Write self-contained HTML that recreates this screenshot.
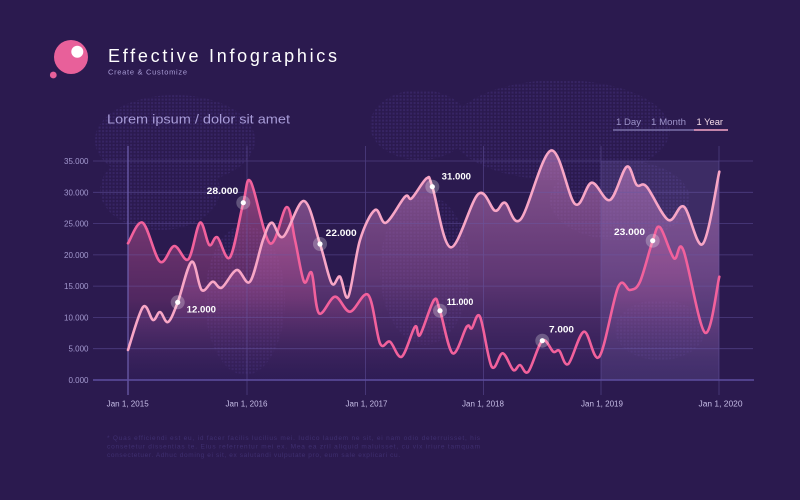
<!DOCTYPE html>
<html><head><meta charset="utf-8"><style>
html,body{margin:0;padding:0;background:#2b1a4f;}
svg{display:block;}
text{font-family:"Liberation Sans",sans-serif;}
</style></head><body>
<svg id="s" width="800" height="500" viewBox="0 0 800 500" xmlns="http://www.w3.org/2000/svg">
<defs>
<pattern id="dots" x="0" y="0" width="3.5" height="3.5" patternUnits="userSpaceOnUse">
<rect x="0.6" y="0.6" width="2" height="2" fill="#43307a" opacity="0.5"/>
</pattern>
<clipPath id="map">
<ellipse cx="175" cy="140" rx="80" ry="45"/>
<ellipse cx="160" cy="190" rx="60" ry="40"/>
<ellipse cx="245" cy="300" rx="40" ry="75"/>
<ellipse cx="420" cy="125" rx="50" ry="35"/>
<ellipse cx="425" cy="270" rx="45" ry="75"/>
<ellipse cx="560" cy="130" rx="110" ry="50"/>
<ellipse cx="620" cy="200" rx="70" ry="40"/>
<ellipse cx="660" cy="330" rx="45" ry="30"/>
</clipPath>
<linearGradient id="gA" x1="0" y1="150" x2="0" y2="380" gradientUnits="userSpaceOnUse">
<stop offset="0" stop-color="#c47cba" stop-opacity="0.62"/>
<stop offset="0.55" stop-color="#8a4f92" stop-opacity="0.55"/>
<stop offset="1" stop-color="#3a2466" stop-opacity="0.25"/>
</linearGradient>
<linearGradient id="gB" x1="0" y1="180" x2="0" y2="380" gradientUnits="userSpaceOnUse">
<stop offset="0" stop-color="#f06aa8" stop-opacity="0.5"/>
<stop offset="0.6" stop-color="#c05095" stop-opacity="0.25"/>
<stop offset="1" stop-color="#3a2466" stop-opacity="0"/>
</linearGradient>
</defs>
<rect width="800" height="500" fill="#2b1a4f"/>
<rect x="60" y="80" width="720" height="340" fill="url(#dots)" clip-path="url(#map)"/>

<!-- logo -->
<circle cx="71" cy="57" r="17" fill="#e8609a"/>
<circle cx="77.3" cy="51.7" r="6" fill="#ffffff"/>
<circle cx="53.3" cy="75" r="3.4" fill="#e8609a"/>

<text x="108" y="62" font-size="18" fill="#ffffff" textLength="229" lengthAdjust="spacing">Effective Infographics</text>
<text x="108" y="74.5" font-size="7.5" fill="#a99dd6" textLength="79" lengthAdjust="spacing">Create &amp; Customize</text>
<text x="107" y="123.5" font-size="13" fill="#a89cd8" textLength="183" lengthAdjust="spacingAndGlyphs">Lorem ipsum / dolor sit amet</text>

<!-- tabs -->
<text x="616" y="125" font-size="9" fill="#9c92c8" textLength="25" lengthAdjust="spacingAndGlyphs">1 Day</text>
<text x="651" y="125" font-size="9" fill="#9c92c8" textLength="35" lengthAdjust="spacingAndGlyphs">1 Month</text>
<text x="696.5" y="125" font-size="9" fill="#f4dbe8" textLength="26.5" lengthAdjust="spacingAndGlyphs">1 Year</text>
<line x1="613" y1="130" x2="694" y2="130" stroke="#7a70a8" stroke-width="1.5"/>
<line x1="694" y1="130" x2="728" y2="130" stroke="#f7a8c8" stroke-width="1.6"/>

<g id="fills"></g>

<!-- highlight -->
<rect x="601" y="161" width="118" height="219" fill="#9a8ad8" opacity="0.17"/>

<!-- grid -->
<g stroke="#6a5aa8" stroke-width="0.8" opacity="0.55">
<line x1="93" y1="161" x2="753" y2="161"/>
<line x1="93" y1="192.3" x2="753" y2="192.3"/>
<line x1="93" y1="223.6" x2="753" y2="223.6"/>
<line x1="93" y1="254.9" x2="753" y2="254.9"/>
<line x1="93" y1="286.1" x2="753" y2="286.1"/>
<line x1="93" y1="317.4" x2="753" y2="317.4"/>
<line x1="93" y1="348.7" x2="753" y2="348.7"/>
<line x1="247" y1="146" x2="247" y2="395"/>
<line x1="365.5" y1="146" x2="365.5" y2="395"/>
<line x1="483.5" y1="146" x2="483.5" y2="395"/>
<line x1="601" y1="146" x2="601" y2="395"/>
<line x1="719" y1="146" x2="719" y2="395"/>
</g>
<line x1="128" y1="146" x2="128" y2="395" stroke="#6f60b0" stroke-width="1.2"/>
<line x1="93" y1="380" x2="754" y2="380" stroke="#5e4ea0" stroke-width="1.6"/>

<!-- y labels -->
<g font-size="8" fill="#a49ad0" text-anchor="end">
<text x="88.5" y="164">35.000</text>
<text x="88.5" y="195.3">30.000</text>
<text x="88.5" y="226.6">25.000</text>
<text x="88.5" y="257.9">20.000</text>
<text x="88.5" y="289.1">15.000</text>
<text x="88.5" y="320.4">10.000</text>
<text x="88.5" y="351.7">5.000</text>
<text x="88.5" y="383">0.000</text>
</g>
<!-- x labels -->
<g font-size="8" fill="#c6bde6">
<text x="106.7" y="406.5" textLength="42" lengthAdjust="spacingAndGlyphs">Jan 1, 2015</text>
<text x="225.5" y="406.5" textLength="42" lengthAdjust="spacingAndGlyphs">Jan 1, 2016</text>
<text x="345.5" y="406.5" textLength="42" lengthAdjust="spacingAndGlyphs">Jan 1, 2017</text>
<text x="462" y="406.5" textLength="42" lengthAdjust="spacingAndGlyphs">Jan 1, 2018</text>
<text x="581" y="406.5" textLength="42" lengthAdjust="spacingAndGlyphs">Jan 1, 2019</text>
<text x="698.5" y="406.5" textLength="44" lengthAdjust="spacingAndGlyphs">Jan 1, 2020</text>
</g>

<g id="lines"></g>

<!-- markers -->
<g>
<circle cx="243.3" cy="202.7" r="7" fill="#ffffff" opacity="0.25"/><circle cx="243.3" cy="202.7" r="2.6" fill="#fff"/>
<circle cx="177.7" cy="302.3" r="7" fill="#ffffff" opacity="0.25"/><circle cx="177.7" cy="302.3" r="2.6" fill="#fff"/>
<circle cx="320" cy="244" r="7" fill="#ffffff" opacity="0.25"/><circle cx="320" cy="244" r="2.6" fill="#fff"/>
<circle cx="432.3" cy="186.7" r="7" fill="#ffffff" opacity="0.25"/><circle cx="432.3" cy="186.7" r="2.6" fill="#fff"/>
<circle cx="440" cy="310.7" r="7" fill="#ffffff" opacity="0.25"/><circle cx="440" cy="310.7" r="2.6" fill="#fff"/>
<circle cx="542.3" cy="340.7" r="7" fill="#ffffff" opacity="0.25"/><circle cx="542.3" cy="340.7" r="2.6" fill="#fff"/>
<circle cx="652.7" cy="240.7" r="7" fill="#ffffff" opacity="0.25"/><circle cx="652.7" cy="240.7" r="2.6" fill="#fff"/>
</g>
<g font-size="9" font-weight="bold" fill="#ffffff">
<text x="206.7" y="194" textLength="31.6" lengthAdjust="spacingAndGlyphs">28.000</text>
<text x="186.7" y="312.5" textLength="29.3" lengthAdjust="spacingAndGlyphs">12.000</text>
<text x="325.7" y="236" textLength="31" lengthAdjust="spacingAndGlyphs">22.000</text>
<text x="441.7" y="179.3" textLength="29.3" lengthAdjust="spacingAndGlyphs">31.000</text>
<text x="446.7" y="305" textLength="26.6" lengthAdjust="spacingAndGlyphs">11.000</text>
<text x="549" y="332.7" textLength="25" lengthAdjust="spacingAndGlyphs">7.000</text>
<text x="614" y="235" textLength="31" lengthAdjust="spacingAndGlyphs">23.000</text>
</g>

<!-- footnote -->
<g font-size="6.5" fill="#3f2f70">
<text x="107" y="440" textLength="373" lengthAdjust="spacing">* Quas efficiendi est eu, id facer facilis lucilius mei. Iudico laudem ne sit, ei nam odio deterruisset, his</text>
<text x="107" y="448.5" textLength="373" lengthAdjust="spacing">consetetur dissentias te. Eius referrentur mei ex. Mea ea zril aliquid maluisset, cu vix iriure tamquam</text>
<text x="107" y="456.8" textLength="293" lengthAdjust="spacing">consectetuer. Adhuc doming ei sit, ex salutandi vulputate pro, eum sale explicari cu.</text>
</g>
</svg>
<script>
(function(){
var A=[[128,350],[143,307],[153,320],[160,312],[168,322],[177.7,302.3],[191.7,261.7],[201.7,290],[212.7,281.7],[221.7,287.7],[236.7,270],[250,281.7],[263,240],[271.7,222.7],[283.3,236.7],[304,201],[320,244],[331.7,283.3],[340,276.7],[348.3,296.7],[360,240],[375,210],[386,222.7],[405,196.7],[411.7,198.3],[426.7,178.3],[432.3,186.7],[450.7,247.3],[478.3,194],[495,210.7],[505,202.7],[520.7,219.3],[551,150.5],[575,204],[591.7,182.7],[610,200],[626.7,166.7],[636.7,185],[646.7,186.7],[668.3,220],[684,206.7],[702.7,244],[719.3,171.7]];
var B=[[128,243.3],[142.7,222.7],[160,261.7],[174.3,246],[188.3,259.3],[200,222.7],[209.3,245],[217.3,237.3],[230,257.3],[243.3,202.7],[250.7,181.7],[270,243.3],[286.7,207],[295,240],[304,281.7],[311.7,273],[319,313.3],[335,296.7],[350,311.7],[368.3,295],[380,343.3],[390,341.7],[401.7,356.7],[415,326.7],[420,335],[434,300],[440,310.7],[452.7,353.3],[466.7,326.7],[471.7,328.3],[480,316.7],[491.7,366.7],[502.7,353.3],[513.3,370],[520,365],[528.3,371.7],[542.3,340.7],[553.3,351.7],[559.3,350.7],[568.3,364],[584,331.7],[599.3,356.7],[618.3,286.7],[630,290],[640,281.7],[652.7,240.7],[660,227.3],[674,258.3],[683.3,250],[705,332.7],[719.3,276.7]];
function cr(p){var d="M"+p[0][0]+","+p[0][1];for(var i=0;i<p.length-1;i++){var p0=p[i-1]||p[i],p1=p[i],p2=p[i+1],p3=p[i+2]||p2;var c1x=p1[0]+(p2[0]-p0[0])/6,c1y=p1[1]+(p2[1]-p0[1])/6,c2x=p2[0]-(p3[0]-p1[0])/6,c2y=p2[1]-(p3[1]-p1[1])/6;d+=" C"+c1x.toFixed(2)+","+c1y.toFixed(2)+" "+c2x.toFixed(2)+","+c2y.toFixed(2)+" "+p2[0]+","+p2[1];}return d;}
var NS="http://www.w3.org/2000/svg";
function mk(tag,attrs,parent){var e=document.createElementNS(NS,tag);for(var k in attrs)e.setAttribute(k,attrs[k]);parent.appendChild(e);return e;}
var f=document.getElementById("fills"),l=document.getElementById("lines");
var dA=cr(A),dB=cr(B);
mk("path",{d:dA+" L719.3,380 L128,380 Z",fill:"url(#gA)"},f);
mk("path",{d:dB+" L719.3,380 L128,380 Z",fill:"url(#gB)"},f);
mk("path",{d:dB,fill:"none",stroke:"#f2619c","stroke-width":"2.6","stroke-linejoin":"round","stroke-linecap":"round"},l);
mk("path",{d:dA,fill:"none",stroke:"#f8a6c6","stroke-width":"2.6","stroke-linejoin":"round","stroke-linecap":"round"},l);
})();
</script>
</body></html>
